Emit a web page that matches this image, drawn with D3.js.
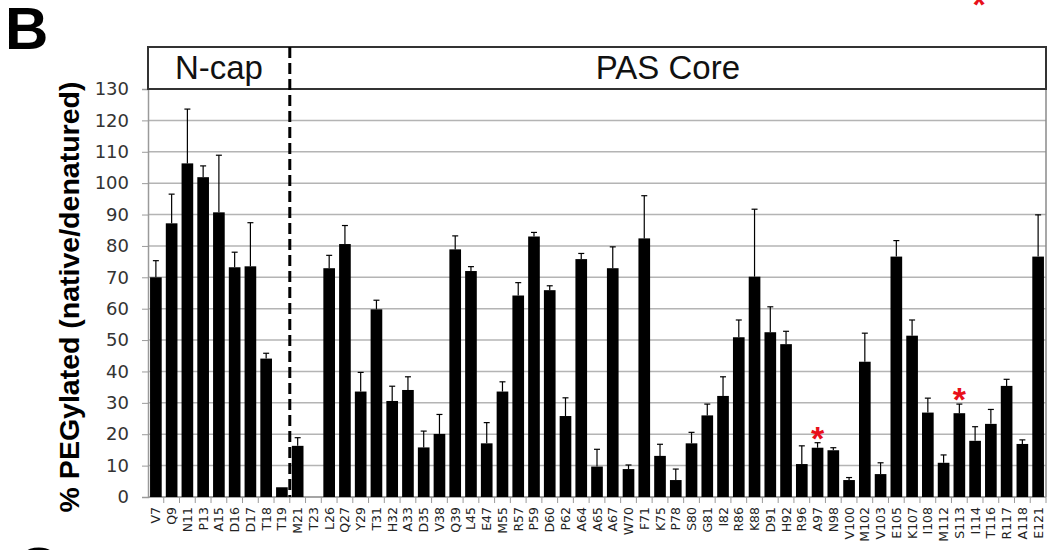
<!DOCTYPE html>
<html>
<head>
<meta charset="utf-8">
<script src="https://cdn.jsdelivr.net/npm/d3@7"></script>
<style>
  body { margin: 0; background: #fff; }
  svg { display: block; }
</style>
</head>
<body>
<svg width="1052" height="550"></svg>
<script>
// Données
const residues = ["V7","Q9","N11","P13","A15","D16","D17","T18","T19","M21","T23",
  "L26","Q27","Y29","T31","H32","A33","D35","V38","Q39","L45","E47","M55","R57","P59",
  "D60","P62","A64","A65","A67","W70","F71","K75","P78","S80","G81","I82","R86","K88",
  "D91","H92","R96","A97","N98","V100","M102","V103","E105","K107","I108","M112","S113",
  "I114","T116","R117","A118","E121"];

const values = [70,87.2,106.3,101.9,90.7,73.2,73.5,44.1,3.1,16.3,0,
  72.9,80.6,33.6,59.8,30.6,34.1,15.8,20.1,78.9,72.0,17.1,33.6,64.2,83.0,
  65.9,25.8,75.8,9.7,72.9,8.9,82.4,13.1,5.4,17.1,26.0,32.2,50.9,70.2,
  52.5,48.7,10.5,15.7,14.9,5.4,43.1,7.3,76.6,51.4,26.9,10.9,26.7,
  17.9,23.3,35.4,16.9,76.6];

const errors = [5.3,9.3,17.3,3.6,18.2,4.8,13.9,1.7,0,2.6,0,
  4.1,5.9,6.1,2.9,4.7,4.2,5.2,6.2,4.3,1.4,6.6,3.1,4.1,1.3,
  1.4,5.8,1.8,5.5,6.8,1.3,13.6,3.7,3.5,3.5,3.6,6.1,5.5,21.5,
  8.1,4.1,5.8,1.6,0.8,0.8,9.1,3.6,5.1,5.0,4.6,2.5,2.9,
  4.5,4.6,2.1,1.3,13.3];

const yTicks = d3.range(0, 131, 10);
const starred = ["A97", "S113"];
const regions = [
  { label: "N-cap", from: "V7", to: "T19" },
  { label: "PAS Core", from: "M21", to: "E121" }
];

const data = residues.map((r, i) => ({ residue: r, value: values[i], err: errors[i] }));

const svg = d3.select("svg"),
      margin = { top: 89, right: 6, bottom: 53, left: 148 },
      width = svg.attr("width") - margin.left - margin.right,
      height = svg.attr("height") - margin.top - margin.bottom;

const chart = svg.append("g")
    .attr("transform", `translate(${margin.left},${margin.top})`);

const x = d3.scaleBand()
    .domain(residues)
    .range([0, width])
    .paddingInner(0.26)
    .paddingOuter(0.13);

const y = d3.scaleLinear()
    .domain([0, 130])
    .range([height, 0]);

const gap = x.step() * x.paddingInner() / 2;
const edgeLeft = d => x(d) - gap;
const edgeRight = d => x(d) + x.bandwidth() + gap;

// Lignes de grille
chart.append("g")
  .selectAll("line")
  .data(yTicks)
  .join("line")
    .attr("x1", 0).attr("x2", width)
    .attr("y1", d => y(d)).attr("y2", d => y(d))
    .attr("stroke", "#b4b4b4")
    .attr("stroke-width", 1.5);

// Axe Y
const yAxis = chart.append("g")
    .call(d3.axisLeft(y).tickValues(yTicks).tickSize(6).tickPadding(13));
yAxis.select(".domain").attr("stroke", "#9a9a9a").attr("stroke-width", 1.5);
yAxis.selectAll(".tick line").attr("stroke", "#9a9a9a");
yAxis.selectAll("text")
    .attr("fill", "#333")
    .style("font-family", "'DejaVu Sans', Verdana, sans-serif")
    .style("font-size", "18px");

// Bordure droite
chart.append("line")
    .attr("x1", width).attr("x2", width)
    .attr("y1", 0).attr("y2", height)
    .attr("stroke", "#8a8a8a").attr("stroke-width", 1.5);

// Axe X : ligne, graduations entre les barres, étiquettes
chart.append("line")
    .attr("x1", 0).attr("x2", width)
    .attr("y1", height).attr("y2", height)
    .attr("stroke", "#9a9a9a").attr("stroke-width", 1.5);

chart.append("g")
  .selectAll("line")
  .data(residues)
  .join("line")
    .attr("x1", d => edgeRight(d)).attr("x2", d => edgeRight(d))
    .attr("y1", height).attr("y2", height + 6)
    .attr("stroke", "#9a9a9a");

chart.append("g")
  .selectAll("text")
  .data(residues)
  .join("text")
    .attr("transform", d => `translate(${x(d) + x.bandwidth() / 2},${height + 10}) rotate(-90)`)
    .attr("text-anchor", "end")
    .attr("dy", "0.36em")
    .attr("fill", "#222")
    .style("font-family", "'DejaVu Sans', Verdana, sans-serif")
    .style("font-size", "12.5px")
    .text(d => d);

// Barres
chart.append("g")
  .selectAll("rect")
  .data(data)
  .join("rect")
    .attr("x", d => x(d.residue))
    .attr("y", d => y(d.value))
    .attr("width", x.bandwidth())
    .attr("height", d => height - y(d.value))
    .attr("fill", "#000");

// Barres d'erreur (seulement vers le haut)
const errG = chart.append("g")
  .selectAll("g")
  .data(data.filter(d => d.err > 0))
  .join("g")
    .attr("stroke", "#000")
    .attr("stroke-width", 1.2);

errG.append("line")
    .attr("x1", d => x(d.residue) + x.bandwidth() / 2)
    .attr("x2", d => x(d.residue) + x.bandwidth() / 2)
    .attr("y1", d => y(d.value))
    .attr("y2", d => y(d.value + d.err));

errG.append("line")
    .attr("x1", d => x(d.residue) + x.bandwidth() / 2 - 3)
    .attr("x2", d => x(d.residue) + x.bandwidth() / 2 + 3)
    .attr("y1", d => y(d.value + d.err))
    .attr("y2", d => y(d.value + d.err));

// Astérisques rouges
chart.append("g")
  .selectAll("text")
  .data(data.filter(d => starred.includes(d.residue)))
  .join("text")
    .attr("x", d => x(d.residue) + x.bandwidth() / 2)
    .attr("y", d => y(d.value + d.err) + 7)
    .attr("text-anchor", "middle")
    .attr("fill", "#e8101a")
    .style("font-family", "'Liberation Sans', Arial, sans-serif")
    .style("font-weight", "bold")
    .style("font-size", "34px")
    .text("*");

// Bandeau des régions
const headerH = 42;
chart.append("rect")
    .attr("x", 0).attr("y", -headerH)
    .attr("width", width).attr("height", headerH)
    .attr("fill", "none")
    .attr("stroke", "#333")
    .attr("stroke-width", 2);

chart.append("g")
  .selectAll("text")
  .data(regions)
  .join("text")
    .attr("x", d => (edgeLeft(d.from) + edgeRight(d.to)) / 2)
    .attr("y", -10)
    .attr("text-anchor", "middle")
    .attr("fill", "#111")
    .style("font-family", "'Liberation Sans', Arial, sans-serif")
    .style("font-size", "33px")
    .text(d => d.label);

// Séparation pointillée N-cap / PAS Core
chart.append("line")
    .attr("x1", edgeLeft("M21")).attr("x2", edgeLeft("M21"))
    .attr("y1", -headerH).attr("y2", height)
    .attr("stroke", "#000")
    .attr("stroke-width", 3)
    .attr("stroke-dasharray", "11,5");

// Titre de l'axe Y
svg.append("text")
    .attr("transform", `translate(79,${margin.top + height / 2 + 4}) rotate(-90)`)
    .attr("text-anchor", "middle")
    .attr("fill", "#000")
    .style("font-family", "'Liberation Sans', Arial, sans-serif")
    .style("font-weight", "bold")
    .style("font-size", "28.5px")
    .text("% PEGylated (native/denatured)");

// Lettres de panneau
svg.append("text")
    .attr("x", 5).attr("y", 49)
    .style("font-family", "'Liberation Sans', Arial, sans-serif")
    .style("font-weight", "bold")
    .style("font-size", "60px")
    .text("B");

svg.append("text")
    .attr("x", 16).attr("y", 589)
    .style("font-family", "'Liberation Sans', Arial, sans-serif")
    .style("font-weight", "bold")
    .style("font-size", "60px")
    .text("C");

// Astérisque coupé en haut à droite
svg.append("text")
    .attr("x", 979).attr("y", 16)
    .attr("text-anchor", "middle")
    .attr("fill", "#e8101a")
    .style("font-family", "'Liberation Sans', Arial, sans-serif")
    .style("font-weight", "bold")
    .style("font-size", "34px")
    .text("*");
</script>
</body>
</html>
